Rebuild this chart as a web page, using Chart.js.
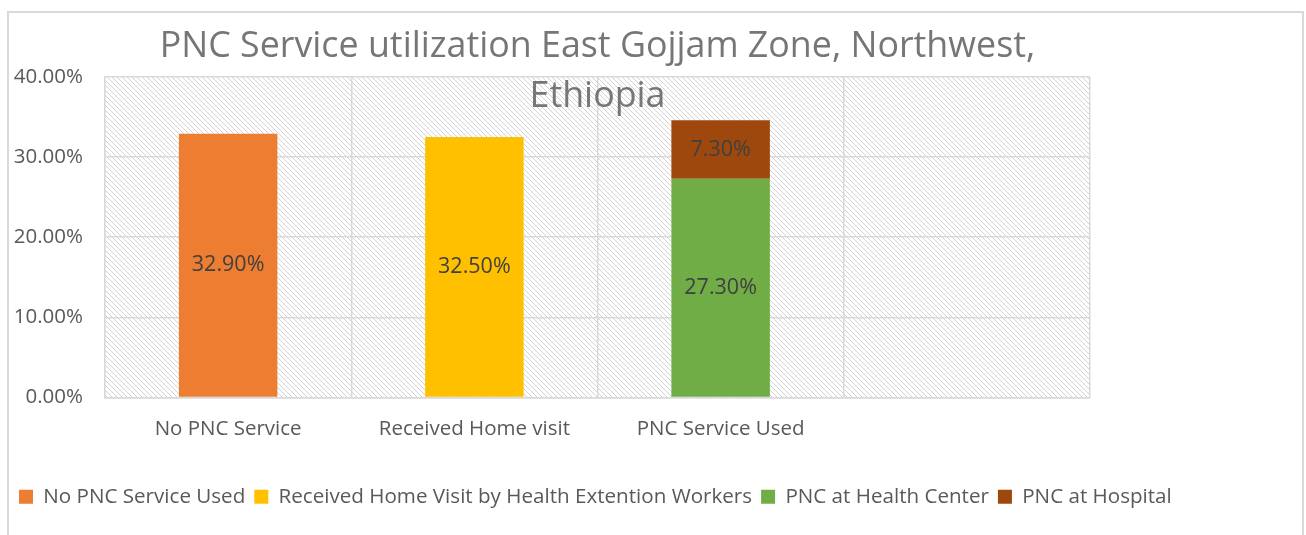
<!DOCTYPE html>
<html>
<head>
<meta charset="utf-8">
<script src="https://cdn.jsdelivr.net/npm/chart.js@4"></script>
<style>
  body { margin: 0; background: #fff; }
  #frame { position: absolute; left: 7px; top: 11px; width: 1293px; height: 540px; border: 2px solid #d9d9d9; }
  #wrap { position: absolute; left: 0; top: 0; width: 1306px; height: 535px; }
</style>
</head>
<body>
<div id="frame"></div>
<div id="wrap"><canvas id="myChart"></canvas></div>
<script>
// categories and values (percent)
const categories = ['No PNC Service', 'Received Home visit', 'PNC Service Used', ''];
const seriesNames = ['No PNC Service Used', 'Received Home Visit by Health Extention Workers', 'PNC at Health Center', 'PNC at Hospital'];
const noPnc = [32.9, null, null, null];
const homeVisit = [null, 32.5, null, null];
const healthCenter = [null, null, 27.3, null];
const hospital = [null, null, 7.3, null];
const colors = ['#ed7d31', '#ffc000', '#70ad47', '#9e480e'];
const titleLines = ['PNC Service utilization East Gojjam Zone, Northwest,', 'Ethiopia'];

const FONT = "'Open Sans', sans-serif";

function hatch() {
  const s = 5;
  const c = document.createElement('canvas');
  c.width = s; c.height = s;
  const g = c.getContext('2d');
  g.fillStyle = '#fff';
  g.fillRect(0, 0, s, s);
  g.strokeStyle = '#d2d2d2';
  g.lineWidth = 1;
  [-s, 0, s].forEach(k => {
    g.beginPath();
    g.moveTo(k, 0);
    g.lineTo(k + s, s);
    g.stroke();
  });
  return g.createPattern(c, 'repeat');
}

const bgPlugin = {
  id: 'hatchBg',
  beforeDraw(chart) {
    const a = chart.chartArea, ctx = chart.ctx;
    ctx.save();
    ctx.fillStyle = hatch();
    ctx.fillRect(a.left, a.top, a.right - a.left, a.bottom - a.top);
    ctx.restore();
  }
};

const labelPlugin = {
  id: 'valueLabels',
  afterDatasetsDraw(chart) {
    const ctx = chart.ctx;
    ctx.save();
    ctx.font = '21.5px ' + FONT;
    ctx.fillStyle = '#404040';
    ctx.textAlign = 'center';
    ctx.textBaseline = 'middle';
    chart.data.datasets.forEach((ds, i) => {
      chart.getDatasetMeta(i).data.forEach((el, j) => {
        const v = ds.data[j];
        if (v == null) return;
        ctx.fillText(v.toFixed(2) + '%', el.x, (el.y + el.base) / 2);
      });
    });
    ctx.restore();
  }
};

const titlePlugin = {
  id: 'overTitle',
  afterDraw(chart) {
    const a = chart.chartArea, ctx = chart.ctx;
    const cx = (a.left + a.right) / 2;
    ctx.save();
    ctx.font = '35.8px ' + FONT;
    ctx.fillStyle = '#767676';
    ctx.textAlign = 'center';
    ctx.textBaseline = 'alphabetic';
    ctx.fillText(titleLines[0], cx, 57);
    ctx.fillText(titleLines[1], cx, 107);
    ctx.restore();
  }
};

const ctx = document.getElementById('myChart').getContext('2d');

new Chart(ctx, {
  type: 'bar',
  data: {
    labels: categories,
    datasets: [noPnc, homeVisit, healthCenter, hospital].map((d, i) => ({
      label: seriesNames[i],
      data: d,
      backgroundColor: colors[i],
      barPercentage: 0.4,
      categoryPercentage: 1
    }))
  },
  options: {
    responsive: true,
    maintainAspectRatio: false,
    animation: false,
    layout: { padding: { top: 77, left: 10, right: 0, bottom: 18 } },
    plugins: {
      legend: {
        position: 'bottom',
        align: 'start',
        labels: {
          boxWidth: 14, boxHeight: 14, padding: 9,
          color: '#595959',
          font: { family: FONT, size: 20.6 }
        }
      },
      tooltip: { enabled: false }
    },
    scales: {
      x: {
        stacked: true,
        grid: { color: '#d9d9d9', lineWidth: 1.5, drawTicks: false },
        border: { color: '#d9d9d9', width: 1.5 },
        ticks: { color: '#595959', padding: 19, font: { family: FONT, size: 20.5 } },
        afterFit(s) { s.height = 80; }
      },
      y: {
        stacked: true,
        min: 0, max: 40,
        ticks: {
          stepSize: 10, color: '#595959', padding: 22,
          font: { family: FONT, size: 20.5 },
          callback: v => v.toFixed(2) + '%'
        },
        grid: { color: '#d9d9d9', lineWidth: 1.5, drawTicks: false },
        border: { color: '#d9d9d9', width: 1.5 },
        afterFit(s) { s.width = 95; }
      },
      spacer: {
        position: 'right',
        grid: { drawOnChartArea: false, drawTicks: false },
        border: { display: false },
        ticks: { display: false },
        afterFit(s) { s.width = 216; }
      }
    }
  },
  plugins: [bgPlugin, labelPlugin, titlePlugin]
});
</script>
</body>
</html>
